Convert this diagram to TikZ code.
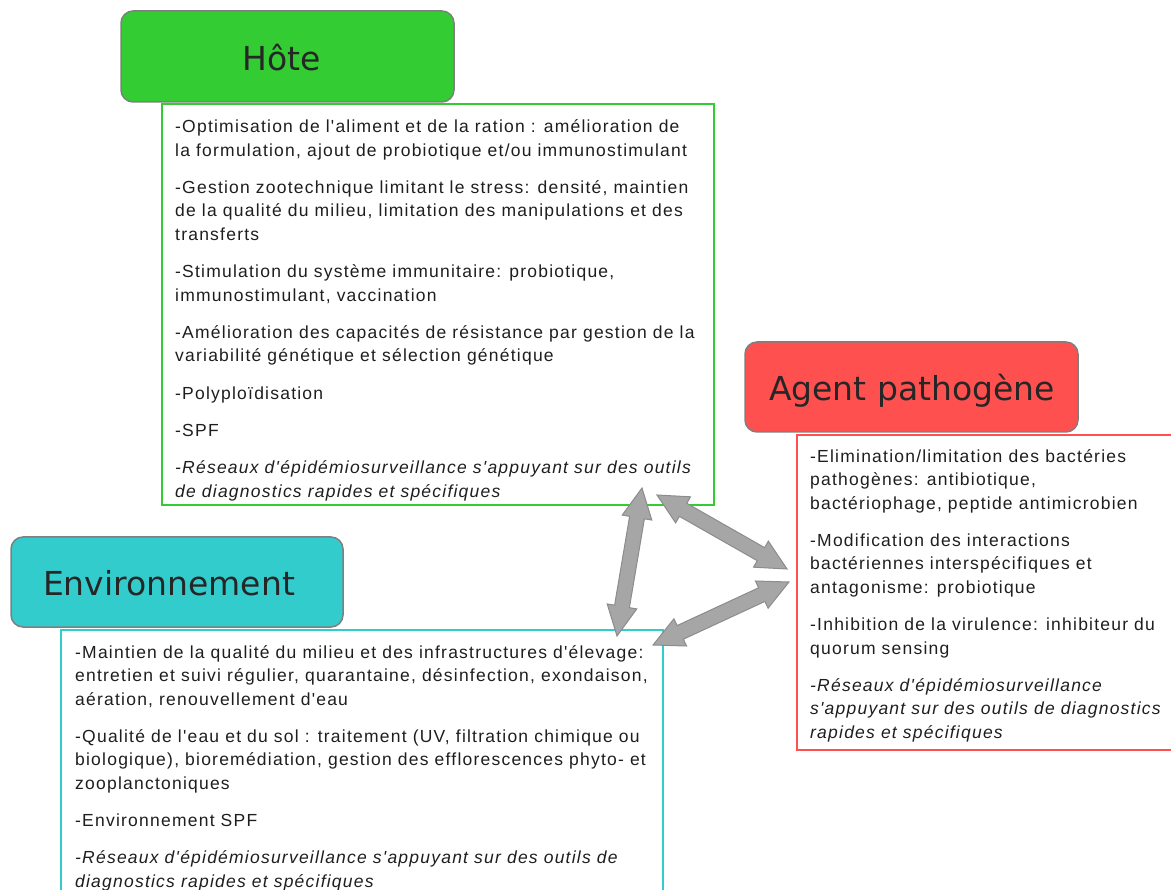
\documentclass[tikz,border=0pt]{standalone}
\usepackage{fontspec}
\usetikzlibrary{calc}

\newfontfamily\headfont{DejaVu Sans}
\newfontfamily\bodyfont[LetterSpace=7]{Liberation Sans}

\definecolor{hotegreen}{HTML}{33CC33}
\definecolor{agentred}{HTML}{FF5050}
\definecolor{envcyan}{HTML}{33CCCC}
\definecolor{headborder}{HTML}{7F7F7F}
\definecolor{headtext}{HTML}{262626}
\definecolor{bodytext}{HTML}{1E1E1E}
\definecolor{arrowgray}{HTML}{A6A6A6}
\definecolor{arrowborder}{HTML}{8C8C8C}

\newcommand{\dblarrow}[2]{%
  \coordinate (#1-h) at ($(#1)!30pt!(#2)$);
  \coordinate (#2-h) at ($(#2)!30pt!(#1)$);
  \draw[draw=arrowborder, fill=arrowgray, line width=1pt] (#1)
    -- ($(#1-h)!15pt!90:(#2)$) -- ($(#1-h)!7.5pt!90:(#2)$)
    -- ($(#2-h)!7.5pt!-90:(#1)$) -- ($(#2-h)!15pt!-90:(#1)$)
    -- (#2)
    -- ($(#2-h)!15pt!90:(#1)$) -- ($(#2-h)!7.5pt!90:(#1)$)
    -- ($(#1-h)!7.5pt!-90:(#2)$) -- ($(#1-h)!15pt!-90:(#2)$) -- cycle;}

\begin{document}
\begin{tikzpicture}[x=1pt, y=-1pt]
      \useasboundingbox (0,0) rectangle (1171,890);

      \draw[draw=headborder, fill=hotegreen, line width=1.5pt, rounded corners=12pt] (121,11) rectangle (454,102);
      \node[anchor=base, text=headtext, font=\headfont\fontsize{33}{36}\selectfont] (hote) at (282,71) {Hôte};

      \draw[draw=hotegreen, line width=2pt] (162,104) rectangle (714,505);
      \node[anchor=north west, align=left, inner sep=0, text=bodytext, font=\bodyfont\fontsize{17.5}{23.5}\selectfont] (hote-text) at (175,119.5) {%
        -Optimisation de l'aliment et de la ration : amélioration de\\
        la formulation, ajout de probiotique et/ou immunostimulant\\[13.8pt]
        -Gestion zootechnique limitant le stress: densité, maintien\\
        de la qualité du milieu, limitation des manipulations et des\\
        transferts\\[13.8pt]
        -Stimulation du système immunitaire: probiotique,\\
        immunostimulant, vaccination\\[13.8pt]
        -Amélioration des capacités de résistance par gestion de la\\
        variabilité génétique et sélection génétique\\[13.8pt]
        -Polyploïdisation\\[13.8pt]
        -SPF\\[13.8pt]
        {\itshape -Réseaux d'épidémiosurveillance s'appuyant sur des outils}\\
        {\itshape de diagnostics rapides et spécifiques}};

      \draw[draw=headborder, fill=agentred, line width=1.5pt, rounded corners=12pt] (745,342) rectangle (1078,432);
      \node[anchor=base, text=headtext, font=\headfont\fontsize{33}{36}\selectfont] (agent) at (912,401) {Agent pathogène};

      \draw[draw=agentred, line width=2pt] (797,435) rectangle (1185,750);
      \node[anchor=north west, align=left, inner sep=0, text=bodytext, font=\bodyfont\fontsize{17.5}{23.5}\selectfont] (agent-text) at (810,449) {%
        -Elimination/limitation des bactéries\\
        pathogènes: antibiotique,\\
        bactériophage, peptide antimicrobien\\[13.8pt]
        -Modification des interactions\\
        bactériennes interspécifiques et\\
        antagonisme: probiotique\\[13.8pt]
        -Inhibition de la virulence: inhibiteur du\\
        quorum sensing\\[13.8pt]
        {\itshape -Réseaux d'épidémiosurveillance}\\
        {\itshape s'appuyant sur des outils de diagnostics}\\
        {\itshape rapides et spécifiques}};

      \draw[draw=headborder, fill=envcyan, line width=1.5pt, rounded corners=12pt] (11,537) rectangle (343,627);
      \node[anchor=base, text=headtext, font=\headfont\fontsize{33}{36}\selectfont] (env) at (169,595) {Environnement};

      \draw[draw=envcyan, line width=2pt] (61,630) rectangle (663,900);
      \node[anchor=north west, align=left, inner sep=0, text=bodytext, font=\bodyfont\fontsize{17.5}{23.5}\selectfont] (env-text) at (75,645) {%
        -Maintien de la qualité du milieu et des infrastructures d'élevage:\\
        entretien et suivi régulier, quarantaine, désinfection, exondaison,\\
        aération, renouvellement d'eau\\[13.8pt]
        -Qualité de l'eau et du sol : traitement (UV, filtration chimique ou\\
        biologique), bioremédiation, gestion des efflorescences phyto- et\\
        zooplanctoniques\\[13.8pt]
        -Environnement SPF\\[13.8pt]
        {\itshape -Réseaux d'épidémiosurveillance s'appuyant sur des outils de}\\
        {\itshape diagnostics rapides et spécifiques}};

      \coordinate (hote-env) at (642,488);
      \coordinate (env-hote) at (617,636);
      \coordinate (hote-agent) at (657,495);
      \coordinate (agent-hote) at (787,569);
      \coordinate (env-agent) at (653,645);
      \coordinate (agent-env) at (789,582);
      \dblarrow{hote-env}{env-hote}
      \dblarrow{hote-agent}{agent-hote}
      \dblarrow{env-agent}{agent-env}
    \end{tikzpicture}
\end{document}
